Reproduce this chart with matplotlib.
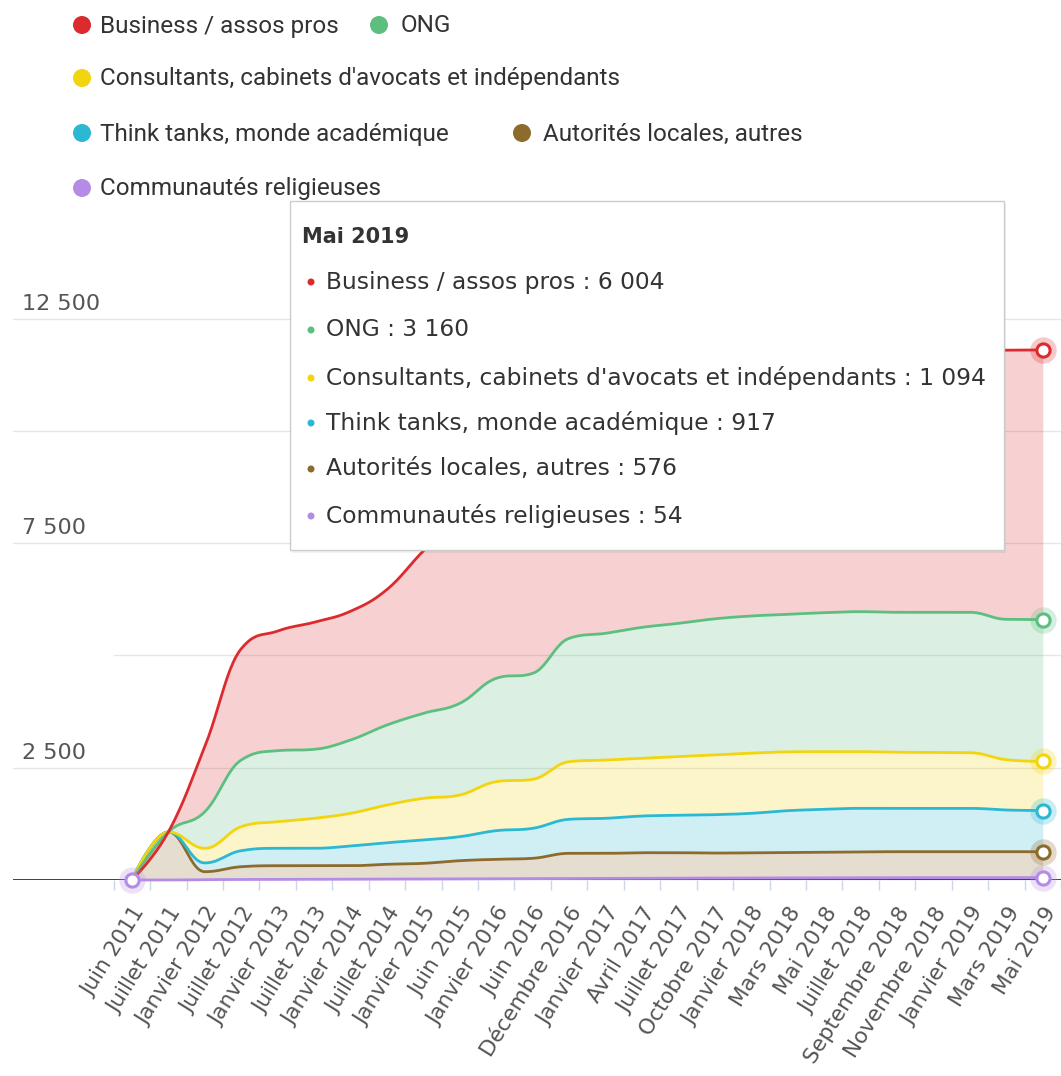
import numpy as np
import matplotlib
matplotlib.use("Agg")
import matplotlib.pyplot as plt
from matplotlib.patches import Rectangle, Circle
from matplotlib.transforms import ScaledTranslation

# Catégories (axe X)
months = ["Juin 2011", "Juillet 2011", "Janvier 2012", "Juillet 2012", "Janvier 2013",
          "Juillet 2013", "Janvier 2014", "Juillet 2014", "Janvier 2015", "Juin 2015",
          "Janvier 2016", "Juin 2016", "Décembre 2016", "Janvier 2017", "Avril 2017",
          "Juillet 2017", "Octobre 2017", "Janvier 2018", "Mars 2018", "Mai 2018",
          "Juillet 2018", "Septembre 2018", "Novembre 2018", "Janvier 2019", "Mars 2019",
          "Mai 2019"]

# Séries (empilées de bas en haut)
religieuses = [0, 0, 8, 12, 14, 16, 18, 20, 22, 25, 28, 30, 35, 38, 40, 42, 44, 46, 48,
               50, 51, 52, 53, 53, 54, 54]
autorites = [0, 1070, 177, 284, 304, 302, 300, 330, 349, 405, 433, 453, 559, 556, 568,
             566, 556, 559, 564, 570, 577, 578, 577, 579, 576, 576]
think_tanks = [0, 0, 195, 357, 388, 388, 439, 480, 520, 535, 638, 668, 758, 780, 817,
               833, 855, 880, 932, 954, 968, 966, 966, 964, 929, 917]
consultants = [0, 0, 326, 535, 593, 667, 728, 840, 928, 928, 1091, 1091, 1283, 1298,
               1285, 1305, 1330, 1340, 1310, 1284, 1262, 1250, 1245, 1240, 1120, 1094]
ong = [0, 0, 814, 1484, 1581, 1537, 1633, 1782, 1893, 2042, 2302, 2361, 2747, 2822,
       2917, 2970, 3032, 3055, 3063, 3096, 3118, 3116, 3121, 3126, 3127, 3160]
business = [0, 0, 1450, 2478, 2665, 2830, 2867, 3018, 3618, 4165, 4208, 4597, 4418,
            4606, 4773, 4934, 5083, 5220, 5383, 5496, 5604, 5718, 5788, 5828, 5994, 6004]

names = ["Communautés religieuses", "Autorités locales, autres",
         "Think tanks, monde académique",
         "Consultants, cabinets d'avocats et indépendants", "ONG",
         "Business / assos pros"]
colors = ["#b48ce6", "#8c6b2c", "#2cb8d2", "#f2d40f", "#5cbf80", "#dc2b2e"]
values = [religieuses, autorites, think_tanks, consultants, ong, business]

y_ticks = [2500, 7500, 12500]
y_tick_labels = ["2 500", "7 500", "12 500"]
grid_values = [2500, 7500, 10000, 12500]


def spline(x, y, s=1.5, n=24):
    # courbe "areaspline" type Highcharts (beziers cubiques)
    m = len(x)
    lc = [(x[i], y[i]) for i in range(m)]
    rc = list(lc)
    for i in range(1, m - 1):
        lx = (s * x[i] + x[i - 1]) / (s + 1)
        ly = (s * y[i] + y[i - 1]) / (s + 1)
        rx = (s * x[i] + x[i + 1]) / (s + 1)
        ry = (s * y[i] + y[i + 1]) / (s + 1)
        corr = (ry - ly) * (rx - x[i]) / (rx - lx) + y[i] - ry
        ly += corr
        ry += corr
        if ly > y[i - 1] and ly > y[i]:
            ly = max(y[i - 1], y[i]); ry = 2 * y[i] - ly
        elif ly < y[i - 1] and ly < y[i]:
            ly = min(y[i - 1], y[i]); ry = 2 * y[i] - ly
        if ry > y[i + 1] and ry > y[i]:
            ry = max(y[i + 1], y[i]); ly = 2 * y[i] - ry
        elif ry < y[i + 1] and ry < y[i]:
            ry = min(y[i + 1], y[i]); ly = 2 * y[i] - ry
        lc[i] = (lx, ly)
        rc[i] = (rx, ry)
    t = np.linspace(0, 1, n, endpoint=False)
    xs, ys = [], []
    for i in range(m - 1):
        p0 = (x[i], y[i]); p1 = rc[i]; p2 = lc[i + 1]; p3 = (x[i + 1], y[i + 1])
        a = (1 - t) ** 3; b = 3 * (1 - t) ** 2 * t; c = 3 * (1 - t) * t ** 2; d = t ** 3
        xs.append(a * p0[0] + b * p1[0] + c * p2[0] + d * p3[0])
        ys.append(a * p0[1] + b * p1[1] + c * p2[1] + d * p3[1])
    xs.append(np.array([x[-1]]))
    ys.append(np.array([y[-1]]))
    return np.concatenate(xs), np.concatenate(ys)


W, H = 1061, 1076
fig = plt.figure(figsize=(W / 100, H / 100), dpi=100)
fig.patch.set_facecolor("white")

x0_px, step_px = 132.7, 36.67
base_px, top_px = 880, 251.4
ax = fig.add_axes([13 / W, (H - base_px) / H, (W - 13) / W, (base_px - top_px) / H])
ax.set_xlim(-(x0_px - 13) / step_px, (W - x0_px) / step_px)
ax.set_ylim(0, 14000)
for sp in ax.spines.values():
    sp.set_visible(False)
ax.set_yticks([])

# grille
for g in grid_values:
    ax.axhline(g, color="#e6e6e6", lw=1, zorder=0)
ax.plot([-0.5, 26], [5000, 5000], color="#e6e6e6", lw=1, zorder=0)

xc = np.arange(len(months))
cum = np.zeros(len(months))
tops = []
for vals, col in zip(values, colors):
    lo = cum.copy()
    cum = cum + np.array(vals, dtype=float)
    xs, ylo = spline(xc, lo)
    _, yhi = spline(xc, cum)
    ax.fill_between(xs, ylo, yhi, color=col, alpha=0.22, lw=0, zorder=1)
    tops.append((xs, yhi, col, cum.copy()))

ax.axhline(0, color="#333333", lw=1.3, zorder=2)
for xs, yhi, col, c in tops:
    ax.plot(xs, yhi, color=col, lw=2, zorder=3, solid_capstyle="round", clip_on=False)

# marqueurs survolés (Mai 2019)
for xs, yhi, col, c in tops:
    ax.plot(xc[-1], c[-1], "o", ms=19, color=col, alpha=0.25, mec="none", zorder=4, clip_on=False)
    ax.plot(xc[-1], c[-1], "o", ms=9.5, mfc="white", mec=col, mew=2.2, zorder=5, clip_on=False)
ax.plot(xc[0], 0, "o", ms=19, color=colors[0], alpha=0.25, mec="none", zorder=4, clip_on=False)
ax.plot(xc[0], 0, "o", ms=9.5, mfc="white", mec=colors[0], mew=2.2, zorder=5, clip_on=False)

# étiquettes Y
for v, lab in zip(y_ticks, y_tick_labels):
    ax.annotate(lab, xy=(0, v), xycoords=("axes fraction", "data"), xytext=(6.5, 3.5),
                textcoords="offset points", ha="left", va="bottom", fontsize=16,
                color="#555555")

# axe X
ax.set_xticks(xc)
ax.set_xticklabels(months, rotation=58, ha="right", va="top", rotation_mode="anchor",
                   fontsize=15.5, color="#555555")
ax.set_xticks(np.arange(-0.5, 25.6, 1), minor=True)
ax.tick_params(axis="x", which="major", length=0, pad=17)
ax.tick_params(axis="x", which="minor", length=7, color="#ccd6eb", width=1)
for lbl in ax.get_xticklabels():
    lbl.set_transform(lbl.get_transform() + ScaledTranslation(0, 0, fig.dpi_scale_trans))

# calque pixel pour légende et infobulle
ov = fig.add_axes([0, 0, 1, 1], zorder=10)
ov.set_xlim(0, W)
ov.set_ylim(H, 0)
ov.axis("off")
ov.patch.set_alpha(0)

legend_font = ["Roboto", "DejaVu Sans"]
legend_items = [(5, 82, 25, 100), (4, 379, 25, 401), (3, 82, 78, 100), (2, 82, 133, 100),
                (1, 522, 133, 543), (0, 82, 188, 100)]
for k, cx, cy, tx in legend_items:
    ov.add_patch(Circle((cx, cy), 9, color=colors[k], lw=0))
    ov.text(tx, cy + 1, names[k], fontsize=17.5, family=legend_font, color="#333333",
            ha="left", va="center")

# infobulle
ov.add_patch(Rectangle((292, 203), 714, 350, facecolor="#000000", alpha=0.05, lw=0, zorder=19))
ov.add_patch(Rectangle((290, 201), 714, 349, facecolor="white", edgecolor="#cccccc",
                       lw=1, zorder=20))
ov.text(302, 237, "Mai 2019", fontsize=15, weight="bold", color="#333333",
        ha="left", va="center", zorder=21)
tip_vals = [business[-1], ong[-1], consultants[-1], think_tanks[-1], autorites[-1], religieuses[-1]]
tip_y = [282, 330, 378, 423, 469, 516]
for j, k in enumerate([5, 4, 3, 2, 1, 0]):
    ov.add_patch(Circle((311, tip_y[j]), 3.5, color=colors[k], lw=0, zorder=21))
    val = f"{tip_vals[j]:,}".replace(",", " ")
    ov.text(326, tip_y[j], f"{names[k]} : {val}", fontsize=16.8, color="#333333",
            ha="left", va="center", zorder=21)

fig.savefig("out.png", dpi=100)
